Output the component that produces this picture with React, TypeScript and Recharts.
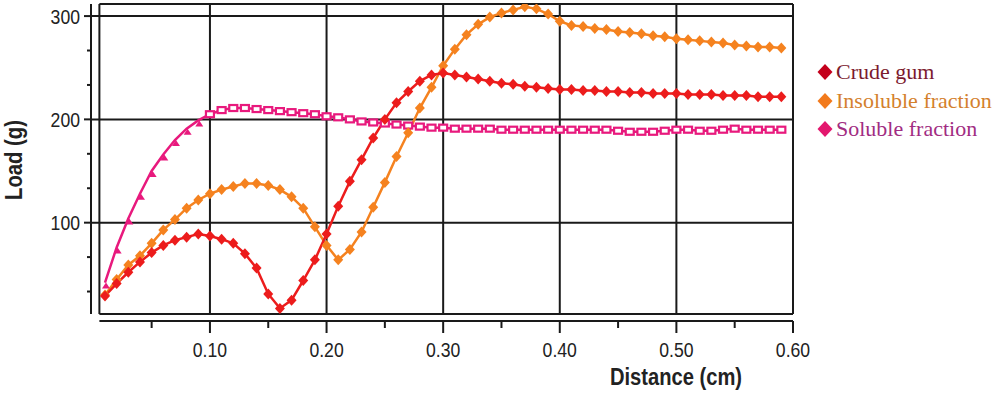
import { LineChart, Line, XAxis, YAxis, ReferenceLine } from "recharts";

const distance = [
  0.01, 0.02, 0.03, 0.04, 0.05, 0.06, 0.07, 0.08, 0.09, 0.1,
  0.11, 0.12, 0.13, 0.14, 0.15, 0.16, 0.17, 0.18, 0.19, 0.2,
  0.21, 0.22, 0.23, 0.24, 0.25, 0.26, 0.27, 0.28, 0.29, 0.3,
  0.31, 0.32, 0.33, 0.34, 0.35, 0.36, 0.37, 0.38, 0.39, 0.4,
  0.41, 0.42, 0.43, 0.44, 0.45, 0.46, 0.47, 0.48, 0.49, 0.5,
  0.51, 0.52, 0.53, 0.54, 0.55, 0.56, 0.57, 0.58, 0.59,
];

const crudeGum = [
  29, 41, 52, 62, 71, 78, 83, 86, 89, 87,
  84, 80, 70, 56, 31, 17, 25, 44, 64, 89,
  116, 140, 161, 182, 200, 216, 227, 237, 243, 245,
  243, 241, 239, 237, 235, 234, 232, 231, 230, 229,
  229, 228, 228, 227, 227, 226, 226, 225, 225, 225,
  224, 224, 224, 223, 223, 223, 222, 222, 222,
];

const insolubleFraction = [
  30, 45, 59, 68, 80, 93, 103, 114, 122, 128,
  132, 135, 138, 138, 136, 132, 125, 114, 96, 78,
  64, 74, 91, 115, 139, 164, 187, 211, 231, 252,
  268, 282, 292, 299, 303, 306, 309, 307, 302, 295,
  291, 290, 288, 287, 285, 284, 283, 281, 280, 278,
  277, 276, 275, 274, 272, 271, 270, 270, 269,
];

const solubleFraction = [
  42, 76, 104, 128, 150, 166, 180, 191, 199, 205,
  209, 211, 211, 210, 209, 208, 207, 206, 205, 203,
  202, 200, 198, 197, 196, 195, 194, 193, 192, 192,
  191, 191, 191, 191, 190, 190, 190, 190, 190, 190,
  190, 190, 190, 190, 189, 188, 188, 188, 189, 190,
  190, 189, 189, 190, 191, 190, 190, 190, 190,
];

const seriesNames = ["Crude gum", "Insoluble fraction", "Soluble fraction"];
const lineColors = ["#ec1c1c", "#f5821f", "#e8197d"];
const legendMarkColors = ["#c4001c", "#f27a1c", "#e3176e"];
const legendTextColors = ["#7c1a2e", "#d4802c", "#a12c82"];

const xTicks = [0.05, 0.1, 0.15, 0.2, 0.25, 0.3, 0.35, 0.4, 0.45, 0.5, 0.55, 0.6];
const xLabelled = [0.1, 0.2, 0.3, 0.4, 0.5, 0.6];
const xGrid = [0.1, 0.2, 0.3, 0.4, 0.5];
const yTicks = [33.33, 66.67, 100, 133.33, 166.67, 200, 233.33, 266.67, 300];
const yLabelled = [100, 200, 300];

// axis ranges: the outer axes sit a few px away from the framed plot box
const X_MIN = -0.002;
const X_MAX = 0.6;
const Y_MIN = 4.8;
const Y_MAX = 311.7;
const BOX_LEFT = 0.0052;
const BOX_BOTTOM = 11.6;

const data = distance.map((d, i) => ({
  distance: d,
  crude: crudeGum[i],
  insoluble: insolubleFraction[i],
  soluble: solubleFraction[i],
}));

// no narrow font installed, so squeeze Liberation Sans horizontally
const axisFont = "'Liberation Sans', Arial, sans-serif";
const ink = "#1a1a1a";

function XTick({ x, y, payload }: any) {
  const major = xLabelled.some((v) => Math.abs(v - payload.value) < 1e-6);
  return (
    <g>
      <line x1={x} x2={x} y1={y} y2={y + (major ? 12 : 7)} stroke={ink} strokeWidth={2} />
      {major && (
        <text
          transform={`translate(${x},${y + 36}) scale(0.84,1)`}
          textAnchor="middle"
          fontFamily={axisFont}
          fontSize={21}
          fill="#222"
        >
          {payload.value.toFixed(2)}
        </text>
      )}
    </g>
  );
}

function YTick({ x, y, payload }: any) {
  const major = yLabelled.some((v) => Math.abs(v - payload.value) < 1e-6);
  return (
    <g>
      <line x1={x - (major ? 7 : 4)} x2={x} y1={y} y2={y} stroke={ink} strokeWidth={2} />
      {major && (
        <text
          transform={`translate(${x - 11},${y + 7.5}) scale(0.84,1)`}
          textAnchor="end"
          fontFamily={axisFont}
          fontSize={21}
          fill="#222"
        >
          {payload.value}
        </text>
      )}
    </g>
  );
}

const diamond = (color: string) => (p: any) => (
  <path
    key={p.index}
    d={`M${p.cx},${p.cy - 5.5} L${p.cx + 5},${p.cy} L${p.cx},${p.cy + 5.5} L${p.cx - 5},${p.cy} Z`}
    fill={color}
  />
);

const solubleDot = (color: string) => (p: any) =>
  p.index < 9 ? (
    <path
      key={p.index}
      d={`M${p.cx + 1},${p.cy} L${p.cx + 5},${p.cy + 6} L${p.cx - 3},${p.cy + 6} Z`}
      fill={color}
    />
  ) : (
    <rect key={p.index} x={p.cx - 4} y={p.cy - 3} width={8} height={6} fill="#fff" stroke={color} strokeWidth={2.2} />
  );

export default function App() {
  return (
    <div style={{ position: "absolute", left: 0, top: 0, width: 1000, height: 395, background: "#fff" }}>
      <LineChart width={1000} height={395} data={data} margin={{ top: 4, right: 207, left: 31, bottom: 0 }}>
        <XAxis
          dataKey="distance"
          type="number"
          domain={[X_MIN, X_MAX]}
          allowDataOverflow
          ticks={xTicks}
          tick={XTick}
          tickLine={false}
          axisLine={false}
          tickSize={0}
          tickMargin={0}
          height={74}
          label={({ viewBox }: any) => (
            <text
              transform={`translate(${viewBox.x + 585},${viewBox.y + 64}) scale(0.84,1)`}
              textAnchor="middle"
              fontFamily={axisFont}
              fontWeight="bold"
              fontSize={24}
              fill="#222"
            >
              Distance (cm)
            </text>
          )}
        />
        <YAxis
          type="number"
          domain={[Y_MIN, Y_MAX]}
          allowDataOverflow
          ticks={yTicks}
          tick={YTick}
          tickLine={false}
          axisLine={false}
          tickSize={0}
          tickMargin={0}
          width={60}
          label={({ viewBox }: any) => (
            <text
              transform={`translate(${viewBox.x - 17},${viewBox.y + 156}) rotate(-90) scale(0.88,1)`}
              textAnchor="middle"
              dominantBaseline="central"
              fontFamily={axisFont}
              fontWeight="bold"
              fontSize={23}
              fill="#222"
            >
              Load (g)
            </text>
          )}
        />
        {xGrid.map((v) => (
          <ReferenceLine key={`gx${v}`} segment={[{ x: v, y: BOX_BOTTOM }, { x: v, y: Y_MAX }]} stroke={ink} strokeWidth={2} ifOverflow="visible" />
        ))}
        {yLabelled.map((v) => (
          <ReferenceLine key={`gy${v}`} segment={[{ x: X_MIN, y: v }, { x: X_MAX, y: v }]} stroke={ink} strokeWidth={2} ifOverflow="visible" />
        ))}
        <ReferenceLine segment={[{ x: BOX_LEFT, y: BOX_BOTTOM }, { x: BOX_LEFT, y: Y_MAX }]} stroke={ink} strokeWidth={2} ifOverflow="visible" />
        <ReferenceLine segment={[{ x: X_MAX, y: BOX_BOTTOM }, { x: X_MAX, y: Y_MAX }]} stroke={ink} strokeWidth={2} ifOverflow="visible" />
        <ReferenceLine segment={[{ x: BOX_LEFT, y: BOX_BOTTOM }, { x: X_MAX, y: BOX_BOTTOM }]} stroke={ink} strokeWidth={2} ifOverflow="visible" />
        <ReferenceLine segment={[{ x: BOX_LEFT, y: Y_MAX }, { x: X_MAX, y: Y_MAX }]} stroke={ink} strokeWidth={2} ifOverflow="visible" />
        <ReferenceLine segment={[{ x: X_MIN, y: BOX_BOTTOM }, { x: X_MIN, y: Y_MAX }]} stroke={ink} strokeWidth={2} ifOverflow="visible" />
        <ReferenceLine segment={[{ x: BOX_LEFT, y: Y_MIN }, { x: X_MAX, y: Y_MIN }]} stroke={ink} strokeWidth={2} ifOverflow="visible" />
        <Line dataKey="soluble" name={seriesNames[2]} stroke={lineColors[2]} strokeWidth={2.5} dot={solubleDot(lineColors[2])} isAnimationActive={false} />
        <Line dataKey="insoluble" name={seriesNames[1]} stroke={lineColors[1]} strokeWidth={2.5} dot={diamond(lineColors[1])} isAnimationActive={false} />
        <Line dataKey="crude" name={seriesNames[0]} stroke={lineColors[0]} strokeWidth={2.5} dot={diamond(lineColors[0])} isAnimationActive={false} />
      </LineChart>
      <div style={{ position: "absolute", left: 816, top: 58, fontFamily: "'Liberation Serif', 'Times New Roman', serif", fontSize: 22 }}>
        {seriesNames.map((name, i) => (
          <div key={name} style={{ display: "flex", alignItems: "center", height: 28.5, whiteSpace: "nowrap" }}>
            <svg width={18} height={18} style={{ marginRight: 2 }}>
              <path d="M9,1 L16.5,9 L9,17 L1.5,9 Z" fill={legendMarkColors[i]} />
            </svg>
            <span style={{ color: legendTextColors[i] }}>{name}</span>
          </div>
        ))}
      </div>
    </div>
  );
}
